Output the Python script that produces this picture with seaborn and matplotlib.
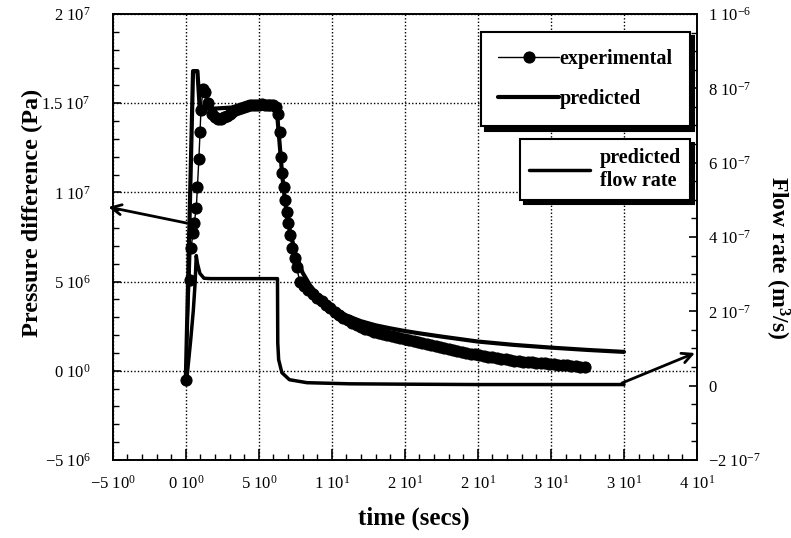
import matplotlib
matplotlib.use("Agg")
import matplotlib.pyplot as plt
import seaborn as sns
import numpy as np
import pandas as pd
from matplotlib.ticker import FixedLocator, FixedFormatter, MultipleLocator

# ---------------- data ----------------
exp_t = [0.00, 0.29, 0.36, 0.50, 0.58, 0.72, 0.80, 0.90, 0.98, 1.04, 1.18, 1.34, 1.55, 1.80,
         2.0, 2.2, 2.4, 2.6, 2.8, 3.0, 3.2, 3.4, 3.6, 3.8, 4.0, 4.2, 4.4, 4.6, 4.8, 5.0,
         5.2, 5.4, 5.6, 5.8, 6.0, 6.15,
         6.3, 6.45, 6.5, 6.6, 6.72, 6.82, 6.92, 7.02, 7.15, 7.3, 7.45, 7.6,
         7.8, 8.1, 8.4, 8.7, 9.0, 9.3, 9.6, 9.9, 10.2, 10.5, 10.8, 11.1, 11.4, 11.7,
         12.0, 12.3, 12.6, 12.9, 13.2, 13.5, 13.8, 14.1, 14.4, 14.7, 15.0, 15.3, 15.6,
         15.9, 16.2, 16.5, 16.8, 17.1, 17.4, 17.7, 18.0, 18.3, 18.6, 18.9, 19.2, 19.5,
         19.8, 20.1, 20.4, 20.7, 21.0, 21.3, 21.6, 21.9, 22.2, 22.5, 22.8, 23.1, 23.4,
         23.7, 24.0, 24.3, 24.6, 24.9, 25.2, 25.5, 25.8, 26.1, 26.4, 26.7, 27.0, 27.3]
exp_p_mpa = [-0.5, 5.1, 6.9, 7.7, 8.3, 9.1, 10.3, 11.9, 13.4, 14.6, 15.8, 15.6, 15.0, 14.4,
             14.2, 14.1, 14.1, 14.2, 14.3, 14.4, 14.5, 14.6, 14.7, 14.75, 14.8, 14.85, 14.9,
             14.9, 14.9, 14.9, 14.95, 14.9, 14.9, 14.9, 14.9, 14.8,
             14.4, 13.4, 12.0, 11.1, 10.3, 9.6, 8.9, 8.3, 7.6, 6.9, 6.3, 5.8,
             5.00, 4.75, 4.52, 4.30, 4.10, 3.90, 3.70, 3.50, 3.30, 3.12, 2.96, 2.82, 2.70, 2.58,
             2.46, 2.36, 2.27, 2.19, 2.12, 2.05, 1.99, 1.94, 1.89, 1.85, 1.80, 1.74, 1.68,
             1.62, 1.56, 1.49, 1.43, 1.37, 1.31, 1.26, 1.21, 1.16, 1.11, 1.06, 1.01, 0.96,
             0.92, 0.88, 0.84, 0.80, 0.76, 0.72, 0.68, 0.64, 0.60, 0.56, 0.53, 0.51, 0.49,
             0.47, 0.45, 0.43, 0.41, 0.38, 0.36, 0.34, 0.32, 0.30, 0.28, 0.26, 0.24, 0.22]

pred_t = [0.0, 0.5, 0.8, 0.95, 1.2, 2.0, 3.0, 4.0, 5.0, 6.2, 6.4, 6.6, 6.8, 7.0, 7.5, 8.0,
          8.5, 9.0, 9.5, 10.0, 11.0, 12.0, 13.0, 14.0, 15.0, 16.0, 17.5, 20.0, 22.5, 25.0,
          27.5, 30.0]
pred_p_mpa = [-0.6, 16.8, 16.8, 14.8, 14.7, 14.7, 14.75, 14.8, 14.85, 14.9, 13.0, 11.0, 9.5,
              8.3, 6.6, 5.5, 4.8, 4.3, 3.9, 3.55, 3.1, 2.78, 2.55, 2.38, 2.23, 2.1, 1.92,
              1.64, 1.45, 1.30, 1.17, 1.06]

flow_t = [0.05, 0.34, 0.52, 0.64, 0.72, 0.80, 0.97, 1.25, 1.7, 3.0, 4.5, 6.28, 6.30, 6.36,
          6.58, 7.1, 8.3, 11.2, 15.0, 20.0, 25.0, 30.0]
flow_q_e7 = [0.08, 1.23, 2.03, 2.75, 3.5, 3.29, 3.02, 2.89, 2.88, 2.88, 2.88, 2.88, 1.15,
             0.70, 0.35, 0.16, 0.08, 0.05, 0.04, 0.03, 0.03, 0.03]

x_ticks = [-5, 0, 5, 10, 15, 20, 25, 30, 35]
x_tick_labels = [r"$\mathregular{-5\ 10^{0}}$", r"$\mathregular{0\ 10^{0}}$",
                 r"$\mathregular{5\ 10^{0}}$", r"$\mathregular{1\ 10^{1}}$",
                 r"$\mathregular{2\ 10^{1}}$", r"$\mathregular{2\ 10^{1}}$",
                 r"$\mathregular{3\ 10^{1}}$", r"$\mathregular{3\ 10^{1}}$",
                 r"$\mathregular{4\ 10^{1}}$"]
yl_ticks = [-5e6, 0, 5e6, 1e7, 1.5e7, 2e7]
yl_tick_labels = [r"$\mathregular{-5\ 10^{6}}$", r"$\mathregular{0\ 10^{0}}$",
                  r"$\mathregular{5\ 10^{6}}$", r"$\mathregular{1\ 10^{7}}$",
                  r"$\mathregular{1.5\ 10^{7}}$", r"$\mathregular{2\ 10^{7}}$"]
yr_ticks = [-2e-7, 0, 2e-7, 4e-7, 6e-7, 8e-7, 1e-6]
yr_tick_labels = [r"$\mathregular{-2\ 10^{-7}}$", r"$\mathregular{0}$",
                  r"$\mathregular{2\ 10^{-7}}$", r"$\mathregular{4\ 10^{-7}}$",
                  r"$\mathregular{6\ 10^{-7}}$", r"$\mathregular{8\ 10^{-7}}$",
                  r"$\mathregular{1\ 10^{-6}}$"]

# annotation arrow positions (tail in data, tip in data)
left_arrow_tail = (0.07, 8.28e6)
left_arrow_tip = (-5.3, 9.18e6)
right_arrow_tail = (29.86, 7e-9)
right_arrow_tip = (34.86, 8.8e-8)

# ---------------- style ----------------
sns.set_theme(style="white")
plt.rcParams["font.family"] = ["Liberation Serif", "DejaVu Serif"]
plt.rcParams["mathtext.fontset"] = "custom"
plt.rcParams["mathtext.rm"] = "Liberation Serif"
plt.rcParams["mathtext.it"] = "Liberation Serif:italic"
plt.rcParams["mathtext.bf"] = "Liberation Serif:bold"
for k in ("text.color", "axes.labelcolor", "xtick.color", "ytick.color", "axes.edgecolor"):
    plt.rcParams[k] = "black"

exp_df = pd.DataFrame({"t": exp_t, "p": np.array(exp_p_mpa) * 1e6})
pred_df = pd.DataFrame({"t": pred_t, "p": np.array(pred_p_mpa) * 1e6})
flow_df = pd.DataFrame({"t": flow_t, "q": np.array(flow_q_e7) * 1e-7})

W, H = 791, 538
fig = plt.figure(figsize=(W / 100, H / 100), dpi=100)
fig.patch.set_facecolor("white")
L, R, T, B = 112.7, 697, 14, 460
ax = fig.add_axes([L / W, 1 - B / H, (R - L) / W, (B - T) / H])
ax2 = ax.twinx()

sns.lineplot(data=exp_df, x="t", y="p", ax=ax, color="black", lw=1.0, marker="o",
             markersize=8, markeredgecolor="black", markerfacecolor="black",
             estimator=None, sort=False, label="experimental")
sns.lineplot(data=pred_df, x="t", y="p", ax=ax, color="black", lw=3.0,
             estimator=None, sort=False, label="predicted")
sns.lineplot(data=flow_df, x="t", y="q", ax=ax2, color="black", lw=2.5,
             estimator=None, sort=False, label="predicted\nflow rate")

ax.set_xlim(-5, 35)
ax.set_ylim(-5e6, 2e7)
ax2.set_ylim(-2e-7, 1e-6)

ax.xaxis.set_major_locator(FixedLocator(x_ticks))
ax.xaxis.set_major_formatter(FixedFormatter(x_tick_labels))
ax.xaxis.set_minor_locator(MultipleLocator(1))
ax.yaxis.set_major_locator(FixedLocator(yl_ticks))
ax.yaxis.set_major_formatter(FixedFormatter(yl_tick_labels))
ax.yaxis.set_minor_locator(MultipleLocator(1e6))
ax2.yaxis.set_major_locator(FixedLocator(yr_ticks))
ax2.yaxis.set_major_formatter(FixedFormatter(yr_tick_labels))
ax2.yaxis.set_minor_locator(MultipleLocator(0.5e-7))

ax.tick_params(axis="x", which="major", direction="in", length=8, width=1.2, pad=11,
               labelsize=12, colors="black", top=False, bottom=True)
ax.tick_params(axis="x", which="minor", direction="in", length=4, width=1.0,
               top=False, bottom=True)
ax.tick_params(axis="y", which="major", direction="in", length=6, width=1.2, pad=16,
               labelsize=12, left=True, right=False, colors="black")
ax.tick_params(axis="y", which="minor", direction="in", length=4, width=1.0,
               left=True, right=False)
ax2.tick_params(axis="y", which="major", direction="in", length=6, width=1.2, pad=8,
                labelsize=12, right=True, colors="black")
ax2.tick_params(axis="y", which="minor", direction="in", length=4, width=1.0, right=True)

ax.grid(True, which="major", color="black", linestyle=(0, (1, 1.5)), lw=1.0)
ax2.grid(False)
for a in (ax, ax2):
    for s in a.spines.values():
        s.set_visible(True)
        s.set_color("black")
        s.set_linewidth(1.2)

ax.set_xlabel("time (secs)", fontsize=18, fontweight="bold", color="black")
ax.xaxis.set_label_coords(0.516, -0.105)
ax.set_ylabel("Pressure difference (Pa)", fontsize=17.5, fontweight="bold", color="black")
ax.yaxis.set_label_coords(-0.12, 0.555)
ax2.set_ylabel(r"Flow rate (m$^{\mathbf{3}}$/s)", fontsize=17, fontweight="bold",
               rotation=270, va="bottom", color="black")
ax2.yaxis.set_label_coords(1.113, 0.453)

shadow = {"ox": 3, "oy": -3, "color": "black", "alpha": 1.0}
leg1 = ax.legend(loc="upper right", bbox_to_anchor=(690 / W, 1 - 32 / H),
                 bbox_transform=fig.transFigure, prop={"weight": "bold", "size": 14.5},
                 frameon=True, fancybox=False, shadow=shadow, framealpha=1,
                 edgecolor="black", numpoints=1, handlelength=3.0, handletextpad=0.05,
                 labelspacing=1.0, borderpad=0.85, borderaxespad=0)
leg1.get_frame().set_linewidth(1.5)
leg2 = ax2.legend(loc="upper right", bbox_to_anchor=(690 / W, 1 - 139 / H),
                  bbox_transform=fig.transFigure, prop={"weight": "bold", "size": 14.5},
                  frameon=True, fancybox=False, shadow=shadow, framealpha=1,
                  edgecolor="black", handlelength=3.0, handletextpad=0.5,
                  borderpad=0.45, borderaxespad=0)
leg2.get_frame().set_linewidth(1.5)

arrow = dict(arrowstyle="->,head_length=0.6,head_width=0.3", lw=2.0, color="black",
             shrinkA=0, shrinkB=0)
ax.annotate("", xy=left_arrow_tip, xytext=left_arrow_tail, arrowprops=arrow,
            annotation_clip=False)
ax2.annotate("", xy=right_arrow_tip, xytext=right_arrow_tail, arrowprops=arrow,
             annotation_clip=False)

fig.savefig("out.png", dpi=100, facecolor="white")
